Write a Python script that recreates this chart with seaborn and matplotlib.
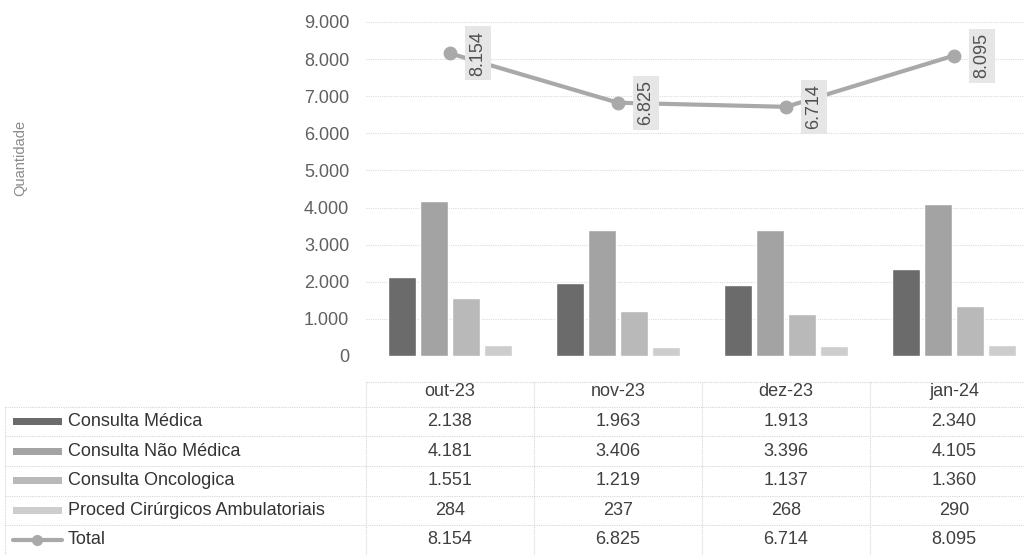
import numpy as np
import pandas as pd
import matplotlib
matplotlib.use('Agg')
import matplotlib.pyplot as plt
import matplotlib.transforms as mtransforms
from matplotlib.patches import Rectangle
from matplotlib.ticker import FuncFormatter
import seaborn as sns

# ── DATA ──────────────────────────────────────────────────────
meses = ['out-23', 'nov-23', 'dez-23', 'jan-24']
series = ['Consulta Médica', 'Consulta Não Médica',
          'Consulta Oncologica', 'Proced Cirúrgicos Ambulatoriais']
consulta_medica = [2138, 1963, 1913, 2340]
consulta_nao_medica = [4181, 3406, 3396, 4105]
consulta_oncologica = [1551, 1219, 1137, 1360]
proced_cirurgicos = [284, 237, 268, 290]
totais = [8154, 6825, 6714, 8095]

cores = ['#6b6b6b', '#a3a3a3', '#b9b9b9', '#cdcdcd']
cor_total = '#a9a9a9'

valores = [consulta_medica, consulta_nao_medica, consulta_oncologica, proced_cirurgicos]
df = pd.DataFrame({
    'mes': np.tile(meses, len(series)),
    'serie': np.repeat(series, len(meses)),
    'valor': np.concatenate(valores),
})


def fmt_br(v):
    return f'{int(round(v)):,}'.replace(',', '.')


sns.set_theme(style='white')
plt.rcParams['font.family'] = ['Liberation Sans', 'DejaVu Sans']

fig = plt.figure(figsize=(10.24, 5.55), dpi=100)
W, H = 1024, 555
x0, y0, ytop = 366, 356, 22
cat_w = 168

# ── CHART ─────────────────────────────────────────────────────
ax = fig.add_axes([x0 / W, (H - y0) / H, (W - x0) / W, (y0 - ytop) / H])
sns.barplot(data=df, x='mes', y='valor', hue='serie', order=meses,
            hue_order=series, palette=cores, saturation=1,
            width=0.76, gap=0.12, legend=False, ax=ax, zorder=2)
sns.lineplot(x=np.arange(len(meses)), y=totais, ax=ax, color=cor_total,
             lw=3, marker='o', markersize=10, markeredgewidth=0, zorder=3)

# Rotated data labels beside each Total marker
for i, v in enumerate(totais):
    ax.annotate(fmt_br(v), xy=(i, v), xytext=(28, 0), textcoords='offset pixels',
                rotation=90, ha='center', va='center', fontsize=13, color='#505050',
                bbox=dict(boxstyle='square,pad=0.25', fc='#e6e6e6', ec='none'),
                zorder=4)

ax.set_xlim(-0.5, -0.5 + (W - x0) / cat_w)
ax.set_ylim(0, 9000)
ax.set_yticks(np.arange(0, 9001, 1000))
ax.yaxis.set_major_formatter(FuncFormatter(lambda v, p: fmt_br(v)))
ax.tick_params(axis='y', labelsize=13, labelcolor='#606060', length=0, pad=12)
ax.set_xticks([])
ax.set_xlabel('')
ax.set_ylabel('')
ax.grid(axis='y', color='#dcdcdc', lw=0.8, ls=(0, (1, 1)), zorder=0)
for s in ax.spines.values():
    s.set_visible(False)
ax.patch.set_alpha(0)

fig.text(20 / W, 1 - 158 / H, 'Quantidade', rotation=90, ha='center', va='center',
         fontsize=10.5, color='#8a8a8a')

# ── DATA TABLE ────────────────────────────────────────────────
tab = fig.add_axes([0, 0, 1, 1], zorder=-1)
tab.set_xlim(0, W)
tab.set_ylim(H, 0)
tab.axis('off')
trans = mtransforms.blended_transform_factory(ax.transData, tab.transData)

linha = dict(color='#d6d6d6', lw=0.8, ls=(0, (1, 1)))
row_h = 29.6
header_y = 392
rows_y = [header_y + row_h * (k + 1) for k in range(len(series) + 1)]

tab.plot([x0, W], [header_y - 10, header_y - 10], **linha)
for k in range(len(series) + 1):
    yb = header_y + row_h * (k + 0.5)
    tab.plot([5, W], [yb, yb], **linha)
tab.plot([5, 5], [header_y + row_h * 0.5, H], **linha)
for i in range(len(meses) + 1):
    tab.plot([i - 0.5, i - 0.5], [header_y - 10, H], transform=trans, **linha)

for i, m in enumerate(meses):
    tab.text(i, header_y, m, transform=trans, ha='center', va='center',
             fontsize=13, color='#404040')

tabela = valores + [totais]
nomes = series + ['Total']
for k, (nome, vals) in enumerate(zip(nomes, tabela)):
    y = rows_y[k]
    if k < len(series):
        tab.add_patch(Rectangle((13, y - 3.5), 49, 7, color=cores[k], lw=0))
    else:
        tab.plot([13, 62], [y, y], color=cor_total, lw=3)
        tab.plot([37], [y], marker='o', markersize=8, color=cor_total, mew=0)
    tab.text(68, y, nome, ha='left', va='center', fontsize=13, color='#333333')
    for i, v in enumerate(vals):
        tab.text(i, y, fmt_br(v), transform=trans, ha='center', va='center',
                 fontsize=13, color='#404040')

fig.savefig('out.png', dpi=100)
